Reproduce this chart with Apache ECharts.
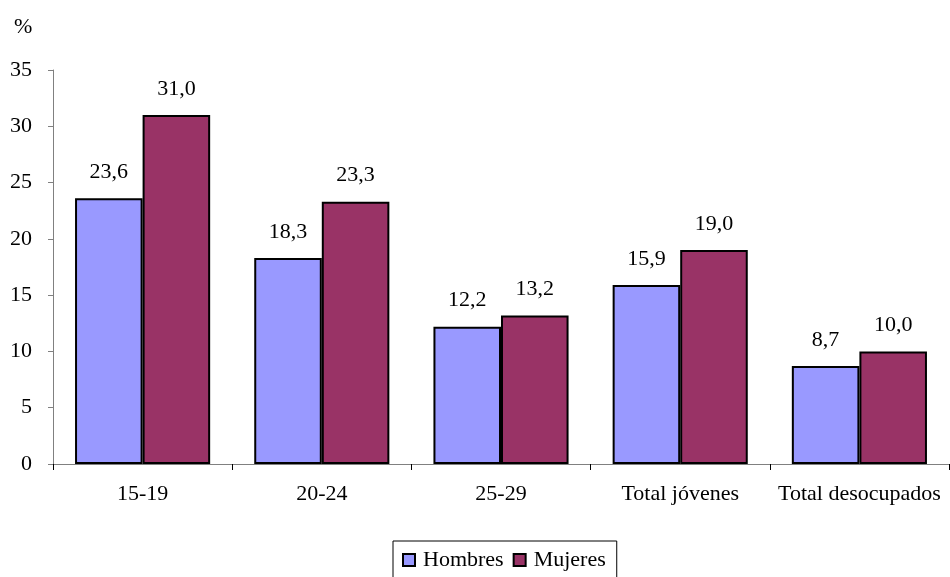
<!DOCTYPE html>
<html><head><meta charset="utf-8">
<script src="https://cdn.jsdelivr.net/npm/echarts@6/dist/echarts.min.js"></script>
<style>html,body{margin:0;padding:0;background:#fff}#c{width:950px;height:577px}</style>
</head><body><div id="c"></div>
<script>
const categories = ["15-19", "20-24", "25-29", "Total jóvenes", "Total desocupados"];
const hombres = [23.6, 18.3, 12.2, 15.9, 8.7];
const mujeres = [31.0, 23.3, 13.2, 19.0, 10.0];
const seriesNames = ["Hombres", "Mujeres"];
const font = "'Liberation Serif', 'Times New Roman', serif";
const chart = echarts.init(document.getElementById('c'));
const lbl = {show: true, position: 'top', distance: 15, color: '#000', fontFamily: font, fontSize: 22,
  formatter: p => p.value.toFixed(1).replace('.', ',')};
chart.setOption({
  animation: false,
  textStyle: {fontFamily: font},
  grid: {left: 53, right: 1, top: 70, bottom: 113, containLabel: false},
  graphic: [{type: 'text', left: 14, top: 16, style: {text: '%', font: "22px " + font, fill: '#000'}}],
  legend: {
    bottom: -14, left: 393, itemWidth: 12, itemHeight: 12, itemGap: 9,
    padding: [8, 11, 20, 9],
    borderColor: '#000', borderWidth: 1,
    textStyle: {fontFamily: font, fontSize: 22, color: '#000', padding: [0, 0, 0, 3]},
    data: seriesNames.map(n => ({name: n, icon: 'rect', itemStyle: {borderColor: '#000', borderWidth: 2}}))
  },
  xAxis: {
    type: 'category', data: categories,
    axisLine: {lineStyle: {color: '#808080', width: 1}},
    axisTick: {show: true, length: 6, lineStyle: {color: '#000'}},
    axisLabel: {color: '#000', fontFamily: font, fontSize: 22, margin: 19, interval: 0}
  },
  yAxis: {
    type: 'value', min: 0, max: 35, interval: 5,
    axisLine: {show: true, lineStyle: {color: '#808080'}},
    axisTick: {show: true, length: 5, lineStyle: {color: '#808080'}},
    splitLine: {show: false},
    axisLabel: {color: '#000', fontFamily: font, fontSize: 22, margin: 21}
  },
  series: [
    {name: seriesNames[0], type: 'bar', data: hombres, barGap: '0%', barCategoryGap: '24.6%',
     itemStyle: {color: '#9999FF', borderColor: '#000', borderWidth: 2}, label: lbl},
    {name: seriesNames[1], type: 'bar', data: mujeres,
     itemStyle: {color: '#993366', borderColor: '#000', borderWidth: 2}, label: lbl}
  ]
});
</script></body></html>
